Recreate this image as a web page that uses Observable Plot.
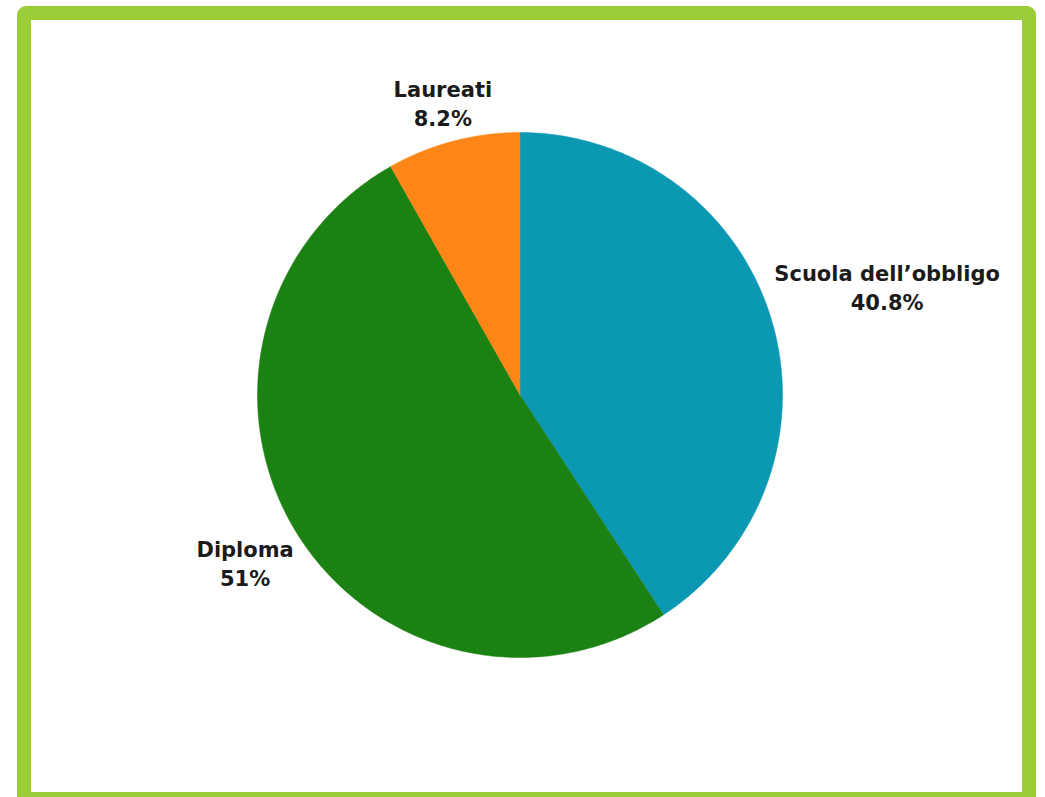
<!DOCTYPE html>
<html>
<head>
<meta charset="utf-8">
<script src="https://cdn.jsdelivr.net/npm/d3@7"></script>
<script src="https://cdn.jsdelivr.net/npm/@observablehq/plot@0.6"></script>
<style>
  html, body { margin: 0; padding: 0; background: #fff; width: 1045px; height: 797px; overflow: hidden; }
  #chart { position: absolute; left: 0; top: 0; }
  #frame { position: absolute; left: 17px; top: 6px; width: 1019px; height: 800px;
           box-sizing: border-box; border: 14px solid #9ACD38; border-radius: 9px; pointer-events: none; }
</style>
</head>
<body>
<div id="chart"></div>
<div id="frame"></div>
<script>
// Data
const categories = ["Scuola dell’obbligo", "Diploma", "Laureati"];
const values = [40.8, 51, 8.2];
const percentLabels = ["40.8%", "51%", "8.2%"];
const colors = ["#0A98B3", "#1C8113", "#FE8617"];

const W = 1045, H = 797;
const cx = 519.5, cy = 394.5, R = 262.5;
const FAMILY = "'DejaVu Sans', sans-serif";
const FSIZE = 21;
const FONT = `bold ${FSIZE}px ${FAMILY}`;

// Slice geometry from d3.pie (clockwise from 12 o'clock)
const arcs = d3.pie().sort(null).value(d => d.value)(
  categories.map((c, i) => ({category: c, value: values[i], label: percentLabels[i]}))
);

const slicePts = [];
for (const a of arcs) {
  const n = Math.max(8, Math.ceil((a.endAngle - a.startAngle) / 0.01));
  slicePts.push({category: a.data.category, x: 0, y: 0});
  for (let k = 0; k <= n; k++) {
    const t = a.startAngle + (a.endAngle - a.startAngle) * k / n;
    slicePts.push({category: a.data.category, x: Math.sin(t), y: Math.cos(t)});
  }
  slicePts.push({category: a.data.category, x: 0, y: 0});
}

// Label placement: anchor just outside the rim, box pushed outward by its half extents
const ctx = document.createElement("canvas").getContext("2d");
ctx.font = FONT;
const lineH = 29;
const labels = arcs.map(a => {
  const m = (a.startAngle + a.endAngle) / 2;
  const dx = Math.sin(m), dy = Math.cos(m);
  const text = a.data.category + "\n" + a.data.label;
  const hw = Math.max(ctx.measureText(a.data.category).width, ctx.measureText(a.data.label).width) / 2;
  const hh = 22.5;
  const off = (R + 6 + hw * Math.abs(dx) + hh * Math.abs(dy)) / R;
  return {text, x: dx * off, y: dy * off};
});

const chart = Plot.plot({
  width: W,
  height: H,
  margin: 0,
  x: {domain: [-cx / R, (W - cx) / R], axis: null},
  y: {domain: [-(H - cy) / R, cy / R], axis: null},
  color: {domain: categories, range: colors},
  marks: [
    Plot.line(slicePts, {x: "x", y: "y", z: "category", fill: "category", stroke: "category", strokeWidth: 0.5, curve: "linear"}),
    Plot.text(labels, {x: "x", y: "y", text: "text", lineHeight: lineH / FSIZE, fontSize: FSIZE, fontWeight: "bold",
      fontFamily: FAMILY, fill: "#1b1b1b", textAnchor: "middle", lineAnchor: "middle"})
  ]
});
document.getElementById("chart").appendChild(chart);
</script>
</body>
</html>
